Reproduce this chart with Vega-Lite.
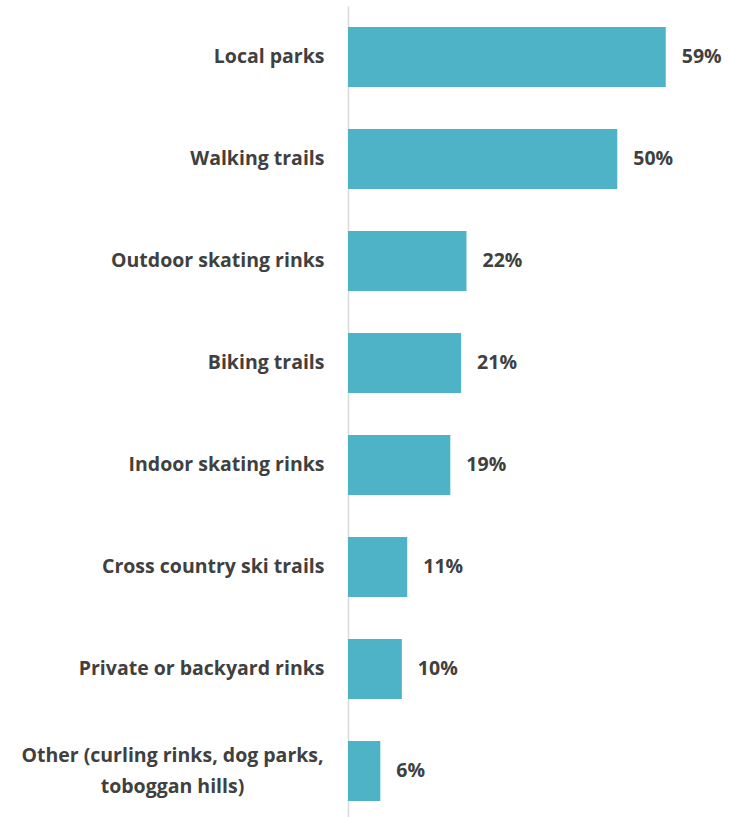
{
  "$schema": "https://vega.github.io/schema/vega-lite/v6.json",
  "width": 377,
  "height": 816,
  "autosize": {"type": "none"},
  "padding": {"left": 348, "top": 6, "right": 7, "bottom": 0},
  "background": "white",
  "config": {"view": {"stroke": null}, "font": "Open Sans"},
  "data": {
    "values": [
      {"cat": "Local parks", "value": 0.59},
      {"cat": "Walking trails", "value": 0.50},
      {"cat": "Outdoor skating rinks", "value": 0.22},
      {"cat": "Biking trails", "value": 0.21},
      {"cat": "Indoor skating rinks", "value": 0.19},
      {"cat": "Cross country ski trails", "value": 0.11},
      {"cat": "Private or backyard rinks", "value": 0.10},
      {"cat": "Other (curling rinks, dog parks,|toboggan hills)", "value": 0.06}
    ]
  },
  "encoding": {
    "y": {
      "field": "cat",
      "type": "nominal",
      "sort": null,
      "scale": {"paddingInner": 0.41, "paddingOuter": 0.205},
      "axis": {
        "title": null,
        "ticks": false,
        "domain": true,
        "domainColor": "#d9d9d9",
        "domainWidth": 1.5,
        "labelPadding": {"condition": {"test": "indexof(datum.value, '|') >= 0", "value": 176}, "value": 24},
        "labelAlign": {"condition": {"test": "indexof(datum.value, '|') >= 0", "value": "center"}, "value": "right"},
        "labelFont": "Open Sans",
        "labelFontWeight": "bold",
        "labelFontSize": 19.5,
        "labelColor": "#404040",
        "labelLimit": 400,
        "labelLineHeight": 31,
        "labelOffset": {"condition": {"test": "indexof(datum.value, '|') >= 0", "value": -15}, "value": 0},
        "labelExpr": "split(datum.label, '|')"
      }
    },
    "x": {
      "field": "value",
      "type": "quantitative",
      "scale": {"domain": [0, 0.70]},
      "axis": null
    }
  },
  "layer": [
    {"mark": {"type": "bar", "color": "#4FB3C8"}},
    {
      "mark": {"type": "text", "align": "left", "dx": 16, "font": "Open Sans", "fontWeight": "bold", "fontSize": 19.5, "color": "#404040"},
      "encoding": {"text": {"field": "value", "type": "quantitative", "format": ".0%"}}
    }
  ]
}
